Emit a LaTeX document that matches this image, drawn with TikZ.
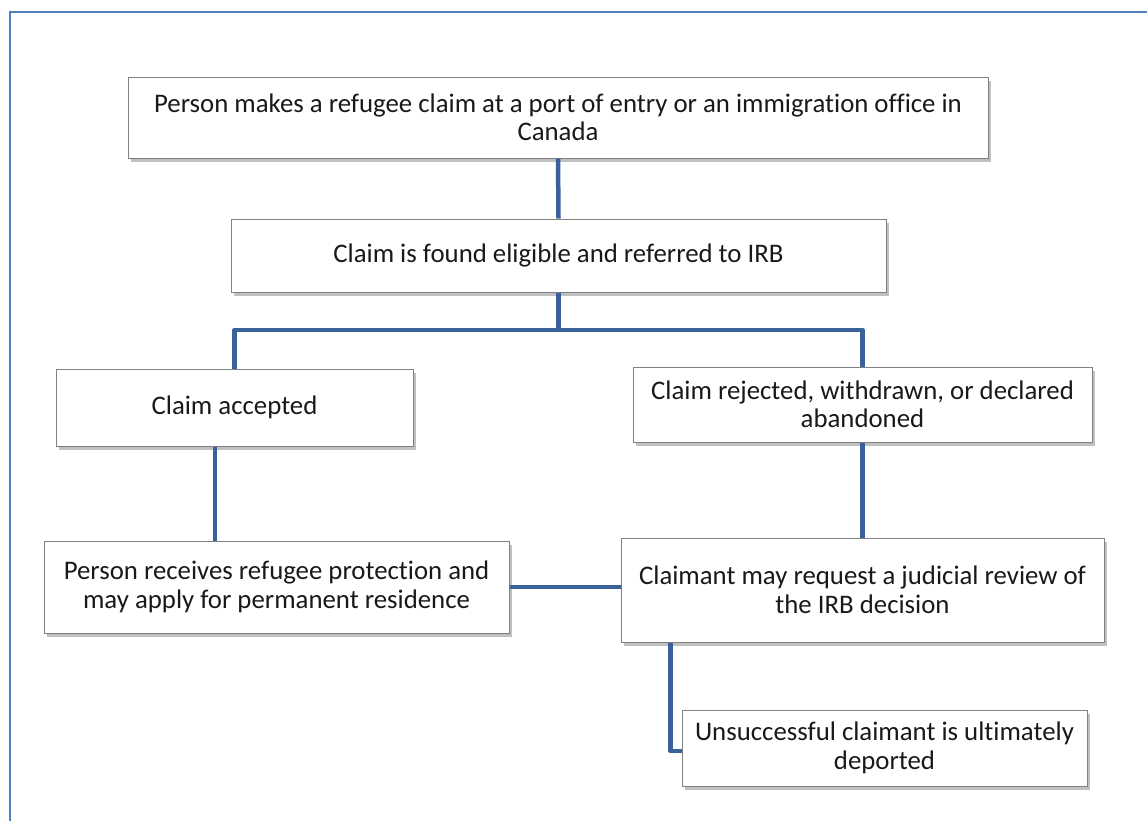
\documentclass[tikz,border=0pt]{standalone}
\usepackage{fontspec}
\setmainfont[RawFeature={-liga;-clig;-calt}]{Carlito}
\usetikzlibrary{positioning,shadows,calc}
\definecolor{linkblue}{HTML}{3A6198}
\definecolor{frameblue}{HTML}{4F7FBD}

\begin{document}
\begin{tikzpicture}[x=1pt, y=-1pt,
    box/.style={draw=black!50, line width=1pt, fill=white, inner sep=0pt,
      align=center, font=\fontsize{26.8}{28.5}\selectfont, text=black!90,
      drop shadow={shadow xshift=3pt, shadow yshift=-3.5pt, opacity=0.45, fill=black!55}},
    link/.style={draw=linkblue, line width=4.5pt, line join=round}]
  \useasboundingbox (0,0) rectangle (1147,820);
  %% outer frame, open on the right and bottom
  \draw[frameblue, line width=2pt] (10,822) -- (10,12) -- (1149,12);

  %% boxes
  \node[box, minimum width=860pt, minimum height=81pt] (claim) at (558,117.5)
    {Person makes a refugee claim at a port of entry or an immigration office in\\ Canada};
  \node[box, minimum width=655pt, minimum height=73pt] (eligible) at (558.5,255.5)
    {Claim is found eligible and referred to IRB};
  \node[box, minimum width=357pt, minimum height=77pt] (accepted) at (234.5,407.5)
    {Claim accepted};
  \node[box, minimum width=459pt, minimum height=75pt] (rejected) at (862.5,404.5)
    {Claim rejected, withdrawn, or declared\\ abandoned};
  \node[box, minimum width=465pt, minimum height=92pt] (protection) at (276.5,587)
    {Person receives refugee protection and\\ may apply for permanent residence};
  \node[box, minimum width=483pt, minimum height=104pt] (review) at (862.5,590)
    {Claimant may request a judicial review of\\ the IRB decision};
  \node[box, minimum width=405pt, minimum height=76pt] (deported) at (884.5,748)
    {Unsuccessful claimant is ultimately\\ deported};

  %% connectors
  \coordinate (fork) at (558.5,330);
  \draw[link] (claim.south) -- (eligible.north);
  \draw[link] (eligible.south) -- (fork);
  \draw[link] (accepted.north) |- (fork) -| (rejected.north);
  \draw[link] ([xshift=-19.5pt]accepted.south) -- ([xshift=-19.5pt]accepted.south |- protection.north);
  \draw[link] (rejected.south) -- (review.north);
  \draw[link] (protection.east) -- (protection.east -| review.west);
  \draw[link] ([xshift=50pt]review.south west) |- ([yshift=-3pt]deported.west);
\end{tikzpicture}
\end{document}
